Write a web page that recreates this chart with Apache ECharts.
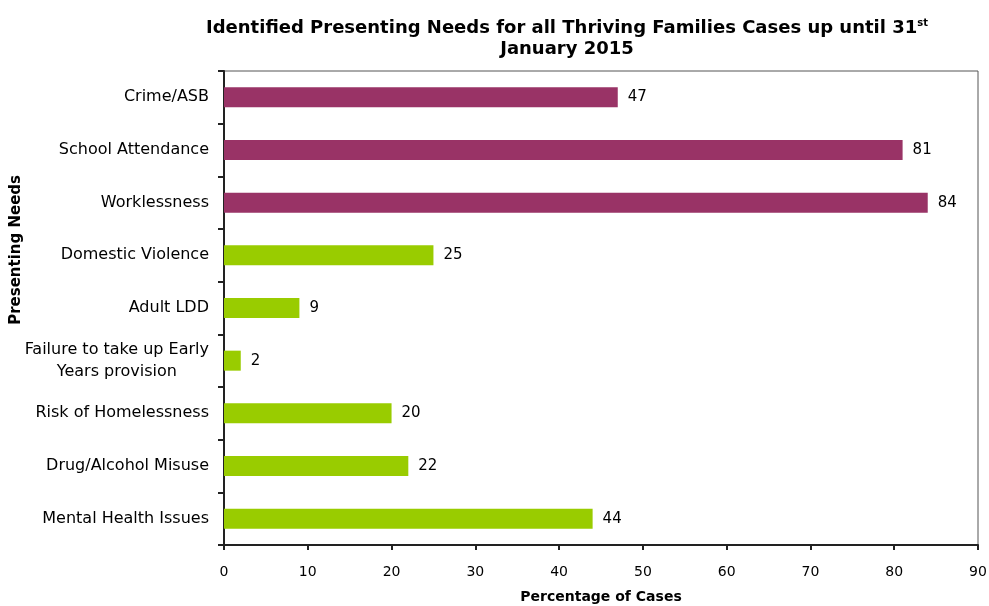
<!DOCTYPE html>
<html>
<head>
<meta charset="utf-8">
<script src="https://cdn.jsdelivr.net/npm/echarts@6/dist/echarts.min.js"></script>
<style>html,body{margin:0;padding:0;background:#fff}#c{width:989px;height:606px}</style>
</head>
<body>
<div id="c"></div>
<script>
var categories = ["Crime/ASB","School Attendance","Worklessness","Domestic Violence","Adult LDD","Failure to take up Early\nYears provision","Risk of Homelessness","Drug/Alcohol Misuse","Mental Health Issues"];
var values = [47, 81, 84, 25, 9, 2, 20, 22, 44];
var groupColors = ["#993366","#993366","#993366","#99CC00","#99CC00","#99CC00","#99CC00","#99CC00","#99CC00"];
var xTicks = [0,10,20,30,40,50,60,70,80,90];

var FONT = "DejaVu Sans";
var chart = echarts.init(document.getElementById('c'), null, {renderer:'canvas'});
var data = values.map(function(v,i){return {value:v, itemStyle:{color:groupColors[i]}};});
chart.setOption({
  animation:false,
  backgroundColor:'#fff',
  title:{
    text:"Identified Presenting Needs for all Thriving Families Cases up until 31{sup|st}\nJanuary 2015",
    left:562, top:13, textAlign:'center',
    textStyle:{fontFamily:FONT,fontWeight:'bold',fontSize:18,color:'#000',lineHeight:21,
      rich:{sup:{fontFamily:FONT,fontWeight:'bold',fontSize:10,verticalAlign:'top',lineHeight:12,color:'#000'}}}
  },
  grid:{left:224,right:11,top:71,bottom:61,show:true,borderColor:'#555',borderWidth:1,backgroundColor:'transparent',
    containLabel:false,outerBoundsMode:'none'},
  xAxis:{
    type:'value',min:0,max:90,interval:10,
    name:'Percentage of Cases',nameLocation:'middle',nameGap:45,
    nameTextStyle:{fontFamily:FONT,fontWeight:'bold',fontSize:14,color:'#000'},
    axisLine:{show:true,lineStyle:{color:'#222',width:2}},
    axisTick:{show:true,length:5,lineStyle:{color:'#222',width:2}},
    axisLabel:{fontFamily:FONT,fontSize:14,color:'#000',margin:20,
      formatter:function(v){return xTicks.indexOf(v)>=0?String(v):'';}},
    splitLine:{show:false}
  },
  yAxis:{
    type:'category',inverse:true,data:categories,
    axisLine:{show:true,lineStyle:{color:'#222',width:2}},
    axisTick:{show:true,length:6,lineStyle:{color:'#222',width:2}},
    axisLabel:{fontFamily:FONT,fontSize:16,color:'#000',margin:15,lineHeight:22,
      formatter:function(v){
        if(v.indexOf('\n')>=0){return v.split('\n').map(function(s){return '{c|'+s+'}';}).join('\n');}
        return v;
      },
      rich:{c:{align:'center',fontFamily:FONT,fontSize:16,color:'#000',lineHeight:22}}
    },
    splitLine:{show:false}
  },
  graphic:[{
    type:'text',left:9,top:175,
    rotation:Math.PI/2,
    style:{text:'Presenting Needs',font:'bold 15px "DejaVu Sans"',fill:'#000'}
  }],
  series:[{
    type:'bar',data:data,barWidth:20,
    label:{show:true,position:'right',distance:10,fontFamily:FONT,fontSize:15,color:'#000'}
  }]
});
</script>
</body>
</html>
